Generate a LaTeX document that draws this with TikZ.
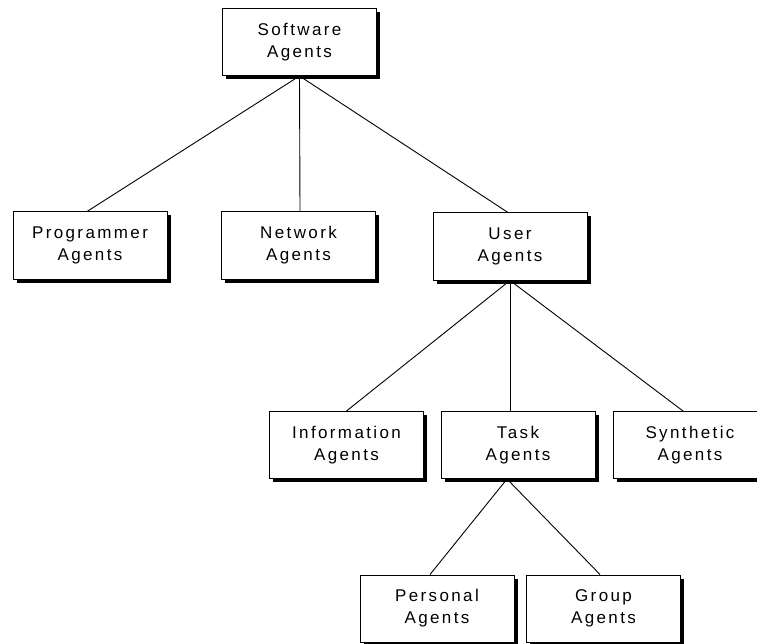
\documentclass[tikz,border=0pt]{standalone}
\usepackage{fontspec}
\setmainfont{Liberation Sans}[LetterSpace=14]
\usetikzlibrary{shadows}
\begin{document}
\begin{tikzpicture}[x=1pt,y=-1pt,
  agentbox/.style={draw=black, line width=1pt, fill=white, minimum width=154pt, minimum height=67pt,
    inner sep=0pt, align=center, font=\fontsize{17}{22}\selectfont,
    drop shadow={shadow xshift=3.5pt, shadow yshift=-3.5pt, fill=black, opacity=1}},
  link/.style={draw=black, line width=0.9pt}]
\useasboundingbox (0,0) rectangle (757,644);
\clip (0,0) rectangle (757,644);
\node[agentbox] (soft) at (299.5,42) {Software\\Agents};
\node[agentbox] (prog) at (90,245.5) {Programmer\\Agents};
\node[agentbox] (net) at (298.5,245.5) {Network\\Agents};
\node[agentbox] (user) at (510,246.5) {User\\Agents};
\node[agentbox] (info) at (346.5,445) {Information\\Agents};
\node[agentbox] (task) at (518,445) {Task\\Agents};
\node[agentbox] (syn) at (690,445) {Synthetic\\Agents};
\node[agentbox] (pers) at (437,608.5) {Personal\\Agents};
\node[agentbox] (grp) at (603.5,608.5) {Group\\Agents};
\draw[link] (soft.south) -- ([xshift=-3pt]prog.north);
\draw[link] (soft.south) -- ([xshift=1.5pt]net.north);
\draw[link] (soft.south) -- ([xshift=-2pt]user.north);
\draw[link] (user.south) -- (info.north);
\draw[link] (user.south) -- ([xshift=-8pt]task.north);
\draw[link] (user.south) -- ([xshift=-7pt]syn.north);
\draw[link] ([xshift=-11pt]task.south) -- ([xshift=-7pt]pers.north);
\draw[link] ([xshift=-11pt]task.south) -- ([xshift=-3.5pt]grp.north);
\end{tikzpicture}
\end{document}
